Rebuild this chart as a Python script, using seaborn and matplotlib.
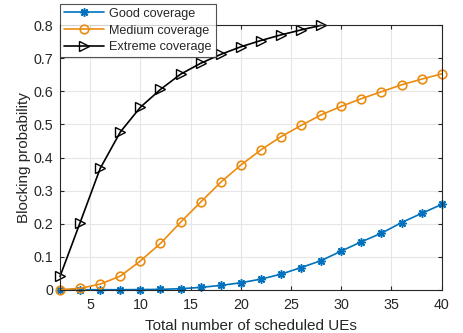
import numpy as np
import pandas as pd
import matplotlib
matplotlib.use("Agg")
import matplotlib.pyplot as plt
import seaborn as sns

# scheduled UEs
ues = [2, 4, 6, 8, 10, 12, 14, 16, 18, 20, 22, 24, 26, 28, 30, 32, 34, 36, 38, 40]
ues_extreme = [2, 4, 6, 8, 10, 12, 14, 16, 18, 20, 22, 24, 26, 28]

good = [0.0, 0.0, 0.0, 0.0, 0.0005, 0.001, 0.003, 0.007, 0.013, 0.021, 0.032,
        0.047, 0.067, 0.088, 0.117, 0.145, 0.171, 0.203, 0.231, 0.258]
medium = [0.0, 0.004, 0.017, 0.041, 0.087, 0.140, 0.204, 0.265, 0.325, 0.377,
          0.423, 0.463, 0.497, 0.529, 0.555, 0.578, 0.599, 0.620, 0.637, 0.653]
extreme = [0.040, 0.203, 0.367, 0.477, 0.552, 0.606, 0.652, 0.685, 0.712,
           0.735, 0.754, 0.771, 0.786, 0.800]

sns.set_style("white")
plt.rcParams['font.family'] = ['Liberation Sans', 'DejaVu Sans']

fig = plt.figure(figsize=(4.63, 3.33), dpi=100)
ax = fig.add_axes([0.1296, 0.130, 0.8244, 0.794])

sns.lineplot(x=ues, y=good, ax=ax, color='#0072BD', marker=(8, 2, 0), markersize=6,
             markeredgecolor='#0072BD', markeredgewidth=1.1, linewidth=1.2,
             label='Good coverage', clip_on=False)
sns.lineplot(x=ues, y=medium, ax=ax, color='#EB8C10', marker='o', markersize=6.2,
             markerfacecolor='none', markeredgecolor='#EB8C10', markeredgewidth=1.2,
             linewidth=1.2, label='Medium coverage', clip_on=False)
sns.lineplot(x=ues_extreme, y=extreme, ax=ax, color='black', marker='>', markersize=7,
             markerfacecolor='none', markeredgecolor='black', markeredgewidth=1.0,
             linewidth=1.2, label='Extreme coverage', clip_on=False)

ax.set_xlim(2, 40)
ax.set_ylim(0, 0.8)
ax.set_xticks([5, 10, 15, 20, 25, 30, 35, 40])
ax.set_yticks([0, 0.1, 0.2, 0.3, 0.4, 0.5, 0.6, 0.7, 0.8])
ax.set_yticklabels(['0', '0.1', '0.2', '0.3', '0.4', '0.5', '0.6', '0.7', '0.8'])
ax.grid(True, color='#e6e6e6', linewidth=0.8)
ax.set_axisbelow(True)
ax.tick_params(direction='in', length=3, labelsize=10.3, colors='#262626',
               top=True, right=True, bottom=True, left=True)
ax.tick_params(axis='x', pad=6)
ax.tick_params(axis='y', pad=5)
for s in ax.spines.values():
    s.set_color('#262626')
    s.set_linewidth(0.8)

ax.set_xlabel('Total number of scheduled UEs', fontsize=11, color='#262626', labelpad=5)
ax.set_ylabel('Blocking probability', fontsize=11, color='#262626', labelpad=2)

leg = ax.legend(loc='upper left', bbox_to_anchor=(60 / 463, 1 - 4 / 333),
                bbox_transform=fig.transFigure, borderaxespad=0, fontsize=9.1,
                frameon=True, fancybox=False, edgecolor='#262626',
                handlelength=3.2, borderpad=0.3, labelspacing=0.38, handletextpad=0.4)
leg.get_frame().set_linewidth(0.8)

fig.savefig('out.png', dpi=100)
